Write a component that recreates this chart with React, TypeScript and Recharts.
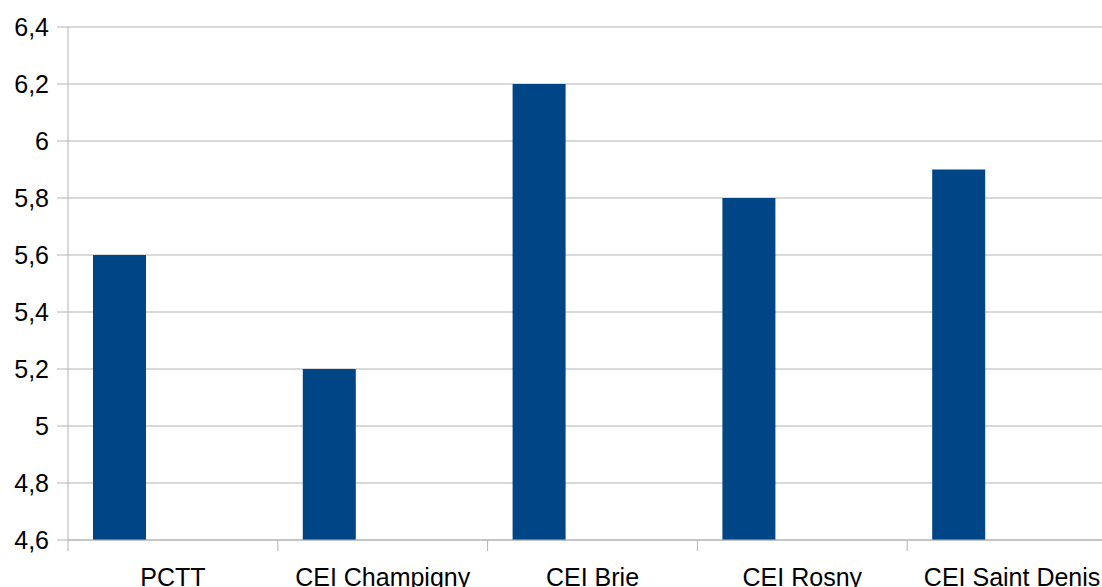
import { BarChart, Bar, XAxis, YAxis, CartesianGrid } from "recharts"

const categories = ["PCTT", "CEI Champigny", "CEI Brie", "CEI Rosny", "CEI Saint Denis"]
const seriesA = [5.6, 5.2, 6.2, 5.8, 5.9]
// the source chart reserves room for two more series that hold no values
const seriesB = [null, null, null, null, null]
const seriesC = [null, null, null, null, null]
const yTicks = [4.6, 4.8, 5, 5.2, 5.4, 5.6, 5.8, 6, 6.2, 6.4]

const data = categories.map((name, i) => ({
  name,
  a: seriesA[i],
  b: seriesB[i],
  c: seriesC[i],
}))

const CHART_W = 1117
const CHART_H = 587
const AXIS_W = 68
const FONT = "'Liberation Sans', Arial, sans-serif"
const GRID = "#b3b3b3"

function CategoryTick(props: any) {
  const { x, y, payload } = props
  const band = (CHART_W - AXIS_W) / categories.length
  const left = x - band / 2
  return (
    <g>
      <line x1={left} y1={y} x2={left} y2={y + 11} stroke={GRID} strokeWidth={1} />
      <text x={x} y={y + 46} textAnchor="middle" fill="#000" fontSize={25} fontFamily={FONT}>
        {payload.value}
      </text>
    </g>
  )
}

export default function App() {
  return (
    <div style={{ position: "absolute", left: 0, top: 0, width: 1102, height: 587, overflow: "hidden", background: "#fff" }}>
      <BarChart
        width={CHART_W}
        height={CHART_H}
        data={data}
        margin={{ top: 27, right: 0, bottom: 0, left: 0 }}
        barGap={0}
      >
        <CartesianGrid vertical={false} stroke={GRID} strokeDasharray="" />
        <XAxis
          dataKey="name"
          height={47}
          tickLine={false}
          tickSize={0}
          tickMargin={0}
          axisLine={{ stroke: GRID }}
          tick={<CategoryTick />}
          interval={0}
        />
        <YAxis
          width={AXIS_W}
          domain={[4.6, 6.4]}
          ticks={yTicks}
          interval={0}
          tickSize={11}
          tickMargin={8}
          axisLine={{ stroke: GRID }}
          tickLine={{ stroke: GRID }}
          tick={{ fill: "#000", fontSize: 25, fontFamily: FONT }}
          tickFormatter={(v: number) => String(v).replace(".", ",")}
        />
        <Bar dataKey="a" fill="#004586" barSize={53} isAnimationActive={false} />
        <Bar dataKey="b" fill="#ff420e" barSize={53} isAnimationActive={false} />
        <Bar dataKey="c" fill="#ffd320" barSize={53} isAnimationActive={false} />
      </BarChart>
    </div>
  )
}
